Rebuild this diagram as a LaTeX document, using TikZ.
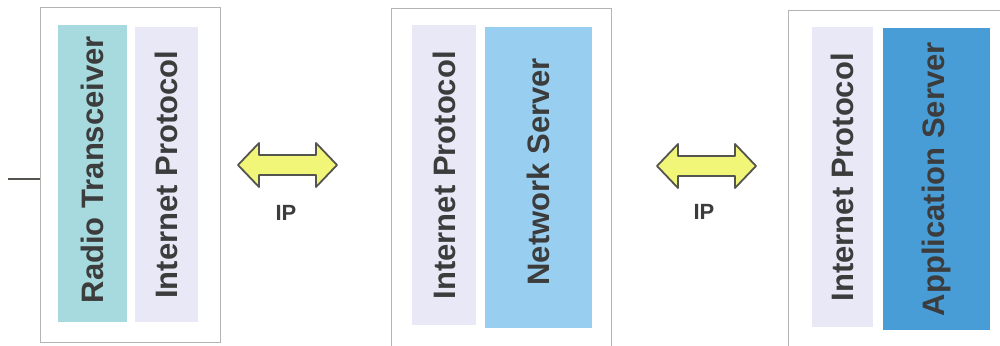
\documentclass[tikz,border=0pt]{standalone}
\usepackage{fontspec}
\setmainfont{Liberation Sans}
\definecolor{rtcol}{RGB}{166,218,222}
\definecolor{ipcol}{RGB}{232,232,247}
\definecolor{nscol}{RGB}{152,206,240}
\definecolor{ascol}{RGB}{72,157,215}
\definecolor{arrowyellow}{RGB}{242,246,120}
\definecolor{arrowgray}{RGB}{85,85,80}
\definecolor{txtgray}{RGB}{60,60,60}
\definecolor{boxgray}{RGB}{180,180,180}
\begin{document}
\begin{tikzpicture}[x=1pt,y=1pt,
  outerbox/.style={draw=boxgray, line width=0.8pt, fill=white, anchor=north west, inner sep=0pt},
  col/.style={anchor=north west, inner sep=0pt, draw=none},
  lbl/.style={rotate=90, font=\bfseries\fontsize{31}{36}\selectfont, text=txtgray, inner sep=0pt},
  iplbl/.style={font=\bfseries\fontsize{22}{26}\selectfont, text=txtgray, inner sep=0pt},
  blockarrow/.style={fill=arrowyellow, draw=arrowgray, line width=1.8pt, line join=round}
]
\useasboundingbox (0,0) rectangle (1000,-345);
\clip (0,0) rectangle (1000,-345);
\fill[white] (0,0) rectangle (1000,-345);

% outer boxes
\node[outerbox, minimum width=180pt, minimum height=335pt] (b1) at (40,-7) {};
\node[outerbox, minimum width=220pt, minimum height=350pt] (b2) at (391,-8) {};
\node[outerbox, minimum width=230pt, minimum height=350pt] (b3) at (788,-10) {};

% columns
\node[col, fill=rtcol, minimum width=69pt, minimum height=297pt] (rt) at (58,-25) {};
\node[col, fill=ipcol, minimum width=63pt, minimum height=295pt] (ip1) at (135,-27) {};
\node[col, fill=ipcol, minimum width=64pt, minimum height=300pt] (ip2) at (412,-25) {};
\node[col, fill=nscol, minimum width=107pt, minimum height=301pt] (ns) at (485,-27) {};
\node[col, fill=ipcol, minimum width=61pt, minimum height=300pt] (ip3) at (812,-27) {};
\node[col, fill=ascol, minimum width=107pt, minimum height=302pt] (as) at (883,-28) {};

% labels
\node[lbl] (trt) at ([yshift=4pt]rt.center) {Radio Transceiver};
\node[lbl] (tip1) at (ip1.center) {Internet Protocol};
\node[lbl] (tip2) at (ip2.center) {Internet Protocol};
\node[lbl] (tns) at ([yshift=6pt]ns.center) {Network Server};
\node[lbl] (tip3) at (ip3.center) {Internet Protocol};
\node[lbl] (tas) at (as.center) {Application Server};

% block arrows
\coordinate (a1) at (287.5,-165);
\coordinate (a2) at (706.5,-166);
\foreach \a in {a1,a2}{
  \draw[blockarrow, shift={(\a)}] (-49.5,0) -- (-28.5,22) -- (-28.5,10) -- (28.5,10)
    -- (28.5,22) -- (49.5,0) -- (28.5,-22) -- (28.5,-10) -- (-28.5,-10)
    -- (-28.5,-22) -- cycle;
}
\node[iplbl] (l1) at (286,-212.5) {IP};
\node[iplbl] (l2) at (704,-212) {IP};

% stray mark at left
\coordinate (s) at (8,-179);
\draw[arrowgray, line width=1.5pt] (s) -- (s -| b1.west);
\end{tikzpicture}
\end{document}
